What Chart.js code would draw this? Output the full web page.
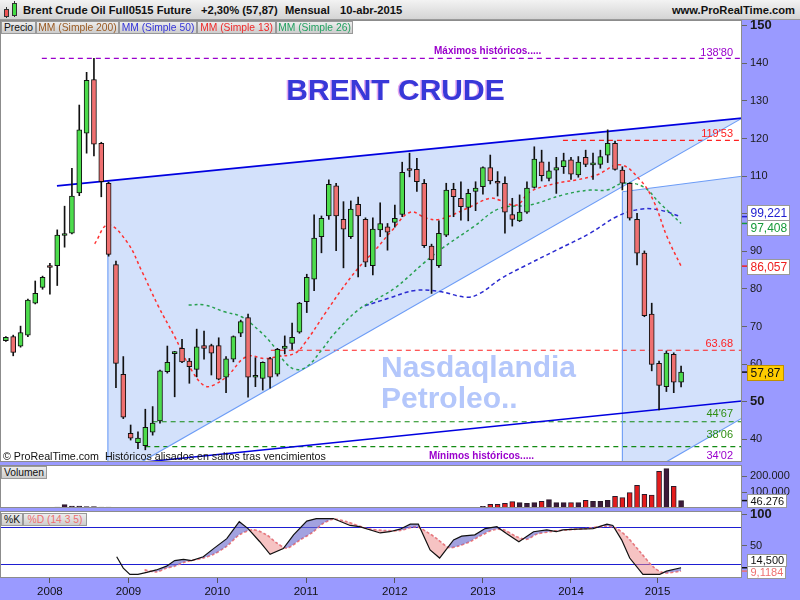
<!DOCTYPE html>
<html>
<head>
<meta charset="utf-8">
<script src="https://cdn.jsdelivr.net/npm/chart.js@4.4.1/dist/chart.umd.min.js"></script>
<style>
html, body { margin: 0; padding: 0; }
body { width: 800px; height: 600px; position: relative; overflow: hidden; background: #9a9aff; font-family: "Liberation Sans", Arial, sans-serif; }
canvas { position: absolute; left: 0; }
#hdr { position: absolute; left: 0; top: 0; width: 800px; height: 19px; background: linear-gradient(#f3f3f3, #d4d4d4); border-bottom: 1px solid #999; z-index: 5; font-weight: bold; font-size: 11.2px; color: #111; }
#hdr span { position: absolute; top: 4px; white-space: nowrap; }
.ico { position: absolute; border: 1px solid #333; }
.wick { position: absolute; width: 1px; background: #333; }
.tag { position: absolute; height: 11px; line-height: 11px; font-size: 10.3px; border: 1px solid #999; background: linear-gradient(#ededed, #cdcdcd); text-align: center; z-index: 5; white-space: nowrap; }
</style>
</head>
<body>
<div id="hdr">
  <div class="wick" style="left:6px;top:7px;height:11px"></div>
  <div class="ico" style="left:4px;top:9px;width:3px;height:6px;background:#ee5555"></div>
  <div class="wick" style="left:14px;top:1px;height:16px"></div>
  <div class="ico" style="left:12px;top:3px;width:3px;height:11px;background:#44dd44"></div>
  <span style="left:23px">Brent Crude Oil Full0515 Future</span>
  <span style="left:201px">+2,30% (57,87)</span>
  <span style="left:285px">Mensual</span>
  <span style="left:340px">10-abr-2015</span>
  <span style="right:5px">www.ProRealTime.com</span>
</div>
<div class="tag" style="left:1px;top:21px;width:33px;color:#111">Precio</div>
<div class="tag" style="left:36px;top:21px;width:81px;color:#9a5a22">MM (Simple 200)</div>
<div class="tag" style="left:119px;top:21px;width:76px;color:#3434d8">MM (Simple 50)</div>
<div class="tag" style="left:197px;top:21px;width:77px;color:#ee2a2a">MM (Simple 13)</div>
<div class="tag" style="left:276px;top:21px;width:75px;color:#22a060">MM (Simple 26)</div>
<div class="tag" style="left:1px;top:466px;width:44px;color:#111">Volumen</div>
<div class="tag" style="left:1px;top:513px;width:20px;color:#111">%K</div>
<div class="tag" style="left:23px;top:513px;width:62px;color:#ee7070">%D (14 3 5)</div>

<canvas id="cPrice" width="800" height="463" style="top:0"></canvas>
<canvas id="cVol" width="800" height="43" style="top:465px"></canvas>
<canvas id="cSto" width="800" height="95" style="top:505px"></canvas>

<script>
// Monthly candles, index 0 = first bar on the left
const opens = [66.2, 67.3, 64.8, 67.7, 76.2, 80.4, 86.0, 86.2, 94.2, 94.8,
  105.5, 121.4, 135.7, 118.7, 108.1, 86.5, 57.3, 41.6, 39.1, 38.3,
  41.9, 44.9, 58.0, 62.8, 64.2, 60.8, 58.6, 64.9, 64.9, 64.9,
  56.5, 61.3, 68.2, 72.4, 56.5, 56.2, 61.5, 57.3, 64.2, 65.5,
  68.5, 76.6, 82.6, 93.9, 99.4, 107.4, 98.5, 93.9, 102.5, 98.5,
  86.2, 95.7, 96.5, 97.7, 99.8, 111.6, 111.8, 108.1, 91.4, 86.2,
  94.3, 106.5, 104.1, 101.7, 105.9, 107.2, 112.3, 108.3, 108.1, 99.8,
  98.1, 100.4, 107.0, 113.8, 109.4, 111.6, 112.5, 114.3, 110.3, 115.0,
  113.0, 113.1, 115.6, 118.7, 111.6, 108.1, 98.5, 89.5, 73.3, 60.2,
  54.0, 62.6, 55.2];
const highs = [67.3, 67.7, 70.1, 77.3, 82.1, 83.4, 86.8, 95.7, 102.0, 112.1,
  128.9, 137.6, 141.3, 119.0, 108.4, 87.4, 62.0, 43.8, 42.0, 48.0,
  48.7, 58.4, 64.8, 63.4, 66.6, 61.5, 69.3, 68.8, 65.3, 67.0,
  62.0, 67.5, 71.7, 73.3, 61.7, 60.6, 61.8, 64.2, 67.5, 70.9,
  76.4, 83.9, 99.7, 99.4, 109.0, 108.1, 103.2, 103.4, 104.4, 98.9,
  98.9, 102.9, 97.4, 102.3, 113.7, 116.1, 114.7, 109.1, 91.9, 98.1,
  108.1, 108.1, 108.5, 106.5, 108.5, 112.5, 115.6, 111.2, 109.8, 104.1,
  105.0, 108.5, 117.8, 116.9, 113.7, 115.0, 116.1, 115.0, 115.2, 116.9,
  116.1, 116.9, 122.3, 119.3, 112.5, 108.2, 100.1, 90.1, 76.2, 60.8,
  63.5, 63.0, 59.5];
const lows = [66.0, 62.2, 64.5, 67.3, 76.0, 79.9, 78.6, 80.9, 91.1, 94.6,
  104.8, 116.1, 115.4, 104.5, 88.7, 53.7, 45.5, 39.8, 37.5, 37.2,
  41.1, 44.3, 57.6, 51.3, 60.4, 54.9, 56.6, 61.3, 57.1, 55.8,
  52.4, 60.6, 67.3, 51.2, 54.0, 53.1, 53.6, 56.8, 62.7, 63.9,
  68.2, 73.7, 79.5, 89.6, 98.5, 90.2, 85.6, 93.4, 83.2, 85.9,
  83.7, 93.9, 90.3, 96.4, 99.2, 109.8, 105.9, 91.0, 78.8, 85.7,
  93.9, 99.2, 98.3, 98.1, 100.8, 105.2, 107.9, 104.7, 94.8, 96.7,
  97.9, 100.1, 106.8, 108.7, 108.7, 105.4, 110.7, 109.1, 109.7, 112.5,
  109.1, 112.1, 113.6, 111.6, 106.3, 98.3, 86.4, 72.6, 58.2, 47.8,
  52.7, 52.4, 53.9];
const closes = [67.1, 63.1, 68.4, 77.0, 78.8, 83.1, 85.7, 94.3, 94.5, 104.7,
  122.3, 135.5, 118.5, 108.5, 89.2, 60.2, 45.9, 40.3, 40.3, 43.2,
  44.3, 58.2, 60.5, 63.1, 60.6, 59.3, 64.6, 64.2, 62.9, 56.0,
  61.4, 67.3, 71.3, 56.5, 57.0, 60.5, 56.5, 63.9, 64.8, 67.1,
  76.2, 83.1, 93.5, 98.8, 107.8, 99.4, 95.9, 101.2, 99.4, 87.1,
  95.9, 97.4, 95.1, 98.8, 111.0, 111.5, 108.5, 91.5, 87.7, 94.8,
  106.3, 104.5, 101.9, 105.4, 106.8, 112.3, 108.7, 108.1, 100.4, 98.5,
  100.4, 106.8, 114.5, 110.1, 111.4, 112.3, 114.1, 110.5, 113.7, 113.1,
  113.2, 115.2, 118.7, 111.8, 108.1, 98.8, 89.5, 72.9, 59.9, 54.3,
  62.9, 55.2, 57.87];
const volumes = [null, null, null, null, null, null, null, 6000, 21000, 12000,
  12000, 9000, 9000, 5000, 5000, 4000, null, null, null, null,
  null, null, null, null, null, null, null, null, null, null,
  null, null, null, null, null, null, null, null, null, 3000,
  null, null, null, null, null, null, null, null, null, null,
  3000, null, null, null, null, null, null, 3000, null, null,
  null, null, null, null, null, 10000, 23000, 23000, 29000, 40000,
  34000, 29000, 34000, 42000, 52000, 34000, 34000, 34000, 34000, 48000,
  42000, 42000, 48000, 73000, 65000, 96000, 142000, 86000, 81000, 229000,
  246000, 136000, 46276];

// Moving averages: [bar index, price]
const ma13 = [[12.1, 92.0], [13.9, 97.0], [16.5, 92.5], [18.5, 84.8], [20.8, 75.3], [23.0, 67.3],
  [25.3, 58.4], [27.1, 54.2], [28.5, 54.6], [30.3, 57.1], [32.8, 62.0], [35.3, 61.5], [37.1, 62.0],
  [39.4, 62.9], [40.7, 65.5], [43.5, 73.5], [45.7, 79.7], [48.0, 85.5], [50.3, 90.3], [52.6, 95.5],
  [55.1, 100.4], [57.3, 98.8], [59.1, 98.5], [62.8, 101.4], [65.9, 104.1], [67.3, 103.6], [69.6, 102.3],
  [71.4, 105.8], [75.0, 108.1], [77.8, 109.0], [80.5, 110.3], [83.7, 113.0], [86.4, 109.0], [88.2, 103.6],
  [90.1, 93.8], [92.0, 86.057]];
const ma26 = [[24.9, 75.7], [27.1, 75.7], [29.8, 73.9], [32.1, 72.6], [34.4, 69.1], [36.2, 65.5],
  [38.0, 60.6], [39.4, 58.6], [41.0, 59.3], [43.0, 63.7], [44.8, 68.2], [48.0, 74.4], [50.7, 77.5],
  [53.0, 80.2], [56.9, 86.8], [59.1, 90.3], [63.7, 96.5], [67.3, 101.4], [71.4, 102.3], [75.9, 105.0],
  [79.6, 106.3], [81.9, 106.3], [84.1, 108.1], [86.8, 107.2], [89.1, 102.8], [92.0, 97.408]];
const ma50 = [[48.9, 75.5], [52.3, 77.6], [55.8, 79.6], [59.1, 79.3], [62.8, 77.8], [64.6, 78.8],
  [67.5, 82.8], [70.5, 85.9], [75.0, 90.3], [79.6, 94.8], [83.2, 99.2], [86.4, 101.2], [89.0, 101.0],
  [92.0, 99.221]];

// Horizontal levels: value, first bar index, label
const levelValues = [141.3, 119.53, 63.68, 44.67, 38.06, 34.02];
const levelStarts = [4.9, 75.9, 36.1, 20.0, 19.0, null];
const levelLabels = ["138'80", "119'53", "63.68", "44'67", "38'06", "34'02"];

// Trend lines and shaded channels: [bar index, price]
const upperLine = [[6.96, 107.4], [100.3, 125.4]];
const lowerLine = [[17.6, 33.7], [100.3, 50.2]];
const channelDiag = [[18.5, 34.0], [100.3, 125.4]];
const channelEdge = [[13.9, 108.74], [13.9, 33.9]];
const box2Top = [[84.0, 105.85], [100.3, 109.95]];
const box2Edge = [[84.0, 105.85], [84.0, 33.9]];
const box2Diag = [[90.0, 34.0], [100.3, 45.6]];
const shade1 = [[13.9, 108.74], [100.3, 125.4], [18.5, 34.0], [13.9, 34.0]];
const shade2 = [[84.0, 105.85], [100.3, 109.95], [100.3, 45.6], [90.0, 34.0], [84.0, 34.0]];

// Stochastic %K and %D: [bar index, value]
const stochK = [[15.1, 32], [16.0, 14], [16.9, 4], [18.0, 4], [19.2, 7], [20.5, 11], [21.9, 17], [23.0, 26],
  [24.2, 28], [25.3, 26], [26.9, 32], [28.3, 45], [30.1, 61], [31.8, 88], [33.0, 77], [34.6, 56], [36.0, 36],
  [37.8, 45], [39.2, 67], [41.0, 89], [42.3, 93], [44.6, 93], [46.9, 82], [48.2, 80], [51.0, 70], [52.3, 72],
  [53.7, 76], [55.1, 84], [56.2, 84], [57.8, 43], [59.1, 30], [61.0, 59], [62.1, 65], [63.9, 67], [65.3, 77],
  [66.9, 80], [68.2, 69], [69.9, 56], [71.9, 72], [73.7, 75], [75.0, 72], [75.9, 75], [77.8, 76], [80.0, 77],
  [81.9, 84], [82.7, 82], [83.9, 59], [85.0, 30], [86.8, 4], [89.1, 4], [90.0, 9], [92.0, 14.5]];
const stochD = [[18.9, 11], [20.5, 8], [21.9, 14], [23.0, 17], [24.2, 23], [25.3, 26], [26.9, 30], [28.3, 36],
  [30.1, 49], [31.8, 67], [33.7, 75], [35.5, 67], [36.9, 54], [38.3, 46], [40.1, 59], [41.9, 72], [43.2, 85],
  [44.6, 92], [46.4, 88], [49.2, 77], [51.4, 74], [53.7, 74], [55.9, 80], [57.3, 72], [58.7, 61], [60.3, 47],
  [61.6, 49], [63.2, 56], [64.6, 65], [66.4, 75], [67.8, 75], [69.6, 64], [71.0, 60], [72.3, 68], [74.1, 72],
  [76.4, 75], [79.1, 77], [81.9, 81], [83.2, 77], [84.6, 64], [86.4, 40], [88.2, 16], [89.6, 6.5], [92.0, 9.1184]];
const stochLevels = [80, 20];

// Axes
const priceTicks = [40, 50, 60, 70, 80, 90, 100, 110, 120, 130, 140, 150];
const volTicks = [100000, 200000];
const stochTicks = [50, 100];
const yearTicks = [6.0, 16.7, 28.8, 40.9, 53.0, 65.0, 77.0, 88.8];
const yearLabels = ['2008', '2009', '2010', '2011', '2012', '2013', '2014', '2015'];

// Right-axis value boxes
const priceBoxValues = [99.221, 97.408, 86.057, 57.87];
const priceBoxLabels = ['99,221', '97,408', '86,057', '57,87'];
const volBoxValues = [46276];
const volBoxLabels = ['46.276'];
const stochBoxValues = [14.5, 9.1184];
const stochBoxLabels = ['14,500', '9,1184'];

const FONT = "'Liberation Sans', Arial, sans-serif";
Chart.defaults.font.family = FONT;
Chart.defaults.color = '#222';
Chart.defaults.animation = false;
Chart.defaults.plugins.legend.display = false;
Chart.defaults.plugins.tooltip.enabled = false;

const X_MIN = -0.8, X_MAX = 100.3, AXIS_W = 58;
const pts = arr => arr.map(([x, y]) => ({ x, y }));
const idx = opens.map((_, i) => i);
const isUp = idx.map(i => closes[i] >= opens[i]);

function hiddenX() {
  return { type: 'linear', min: X_MIN, max: X_MAX, offset: false, display: false };
}
function rightY(min, max, ticks, fontFn, fmt) {
  return {
    position: 'right', min, max,
    afterBuildTicks: s => { s.ticks = ticks.map(v => ({ value: v })); },
    afterFit: s => { s.width = AXIS_W; s.paddingTop = 0; s.paddingBottom = 0; },
    grid: { drawOnChartArea: false, drawTicks: true, tickLength: 5, color: '#666' },
    border: { display: false },
    ticks: { padding: 3, color: '#1a1a1a', font: fontFn, callback: fmt || (v => v) }
  };
}

const panel = {
  id: 'panel',
  beforeDraw(chart) {
    const { ctx, chartArea: a } = chart;
    ctx.save();
    ctx.fillStyle = '#fff';
    ctx.fillRect(a.left, a.top, a.right - a.left, a.bottom - a.top);
    ctx.restore();
  },
  afterDraw(chart) {
    const { ctx, chartArea: a } = chart;
    ctx.save();
    ctx.strokeStyle = '#8c8c8c';
    ctx.lineWidth = 1;
    ctx.strokeRect(a.left + 0.5, a.top + 0.5, a.right - a.left - 1, a.bottom - a.top - 1);
    ctx.restore();
  }
};

function valueBoxes(values, labels, styles, boxH, fontSize) {
  return {
    id: 'boxes',
    afterDraw(chart) {
      const { ctx, chartArea: a } = chart;
      const ys = chart.scales.y;
      const items = values.map((v, k) => ({ k, y0: ys.getPixelForValue(v), y: ys.getPixelForValue(v) }));
      items.sort((p, q) => p.y0 - q.y0);
      for (let pass = 0; pass < 20; pass++) {
        for (let k = 1; k < items.length; k++) {
          const gap = items[k].y - items[k - 1].y;
          if (gap < boxH) { const d = (boxH - gap) / 2; items[k].y += d; items[k - 1].y -= d; }
        }
      }
      const last = items[items.length - 1];
      const over = last.y + boxH / 2 - a.bottom;
      if (over > 0) items.forEach(it => { it.y -= over; });
      ctx.save();
      ctx.font = fontSize + 'px ' + FONT;
      ctx.textBaseline = 'middle';
      ctx.textAlign = 'left';
      items.forEach(it => {
        const st = styles[it.k];
        const w = Math.ceil(ctx.measureText(labels[it.k]).width) + 5;
        ctx.strokeStyle = st.tick;
        ctx.lineWidth = 1.5;
        ctx.beginPath(); ctx.moveTo(a.right, it.y0); ctx.lineTo(a.right + 5, it.y0); ctx.stroke();
        const x0 = a.right + 5.5, y0 = Math.round(it.y - boxH / 2) + 0.5;
        ctx.fillStyle = st.bg;
        ctx.fillRect(x0, y0, w, boxH);
        ctx.strokeStyle = st.border;
        ctx.lineWidth = 1;
        ctx.strokeRect(x0, y0, w, boxH);
        ctx.fillStyle = st.color;
        ctx.fillText(labels[it.k], x0 + 3, y0 + boxH / 2 + 0.5);
      });
      ctx.restore();
    }
  };
}

const shading = {
  id: 'shading',
  beforeDatasetsDraw(chart) {
    const { ctx, chartArea: a } = chart;
    const xs = chart.scales.x, ys = chart.scales.y;
    ctx.save();
    ctx.beginPath(); ctx.rect(a.left, a.top, a.right - a.left, a.bottom - a.top); ctx.clip();
    ctx.fillStyle = '#d3e1fb';
    [shade1, shade2].forEach(poly => {
      ctx.beginPath();
      poly.forEach(([x, y], k) => {
        const px = xs.getPixelForValue(x), py = ys.getPixelForValue(y);
        if (k === 0) ctx.moveTo(px, py); else ctx.lineTo(px, py);
      });
      ctx.closePath();
      ctx.fill();
    });
    ctx.restore();
  }
};

const levelColors = ['#9a00cc', '#ff1e1e', '#ff1e1e', '#2f8f12', '#2f8f12', '#9a00cc'];
const labelLift = [2.8, 3.3, 3.3, 4.5, 8.5, 2.5];
const priceText = {
  id: 'priceText',
  afterDatasetsDraw(chart) {
    const { ctx } = chart;
    const ys = chart.scales.y;
    ctx.save();
    ctx.textBaseline = 'alphabetic';
    ctx.font = 'bold 30px ' + FONT;
    ctx.textAlign = 'center';
    ctx.fillStyle = '#e7a9ef';
    ctx.fillText('BRENT CRUDE', 394, 100);
    ctx.fillStyle = '#3838d8';
    ctx.fillText('BRENT CRUDE', 395.5, 100);
    ctx.textAlign = 'left';
    ctx.fillStyle = '#b4c7fb';
    ctx.fillText('Nasdaqlandia', 381, 377);
    ctx.fillText('Petroleo..', 381, 408);

    ctx.font = '11px ' + FONT;
    ctx.textAlign = 'right';
    levelLabels.forEach((t, k) => {
      ctx.fillStyle = levelColors[k];
      ctx.fillText(t, 733, ys.getPixelForValue(levelValues[k]) - labelLift[k]);
    });
    ctx.textAlign = 'left';
    ctx.font = 'bold 10px ' + FONT;
    ctx.fillStyle = '#9a00cc';
    ctx.fillText('Máximos históricos.....', 434, ys.getPixelForValue(levelValues[0]) - 4.3);
    ctx.fillText('Mínimos históricos.....', 429, ys.getPixelForValue(levelValues[5]) - 2.8);
    ctx.font = '10.7px ' + FONT;
    ctx.fillStyle = '#111';
    ctx.fillText('© ProRealTime.com  Históricos alisados en saltos tras vencimientos', 3, 459.5);
    ctx.restore();
  }
};

function lineDs(data, color, width, dash, order) {
  return { type: 'line', data: pts(data), borderColor: color, borderWidth: width, borderDash: dash || [],
    pointRadius: 0, tension: 0, fill: false, order };
}

const levelDatasets = levelValues.map((v, k) => levelStarts[k] === null ? null :
  lineDs([[levelStarts[k], v], [X_MAX, v]], k === 0 ? '#9a00cc' : (k < 3 ? '#ff2020' : '#138a13'), 1.2, [5, 4], 5))
  .filter(Boolean);

new Chart(document.getElementById('cPrice'), {
  type: 'bar',
  data: {
    datasets: [
      { type: 'bar', data: idx.map(i => ({ x: i, y: [opens[i], closes[i]] })),
        backgroundColor: isUp.map(u => u ? '#4cdc4c' : '#ef7070'), borderColor: '#111', borderWidth: 1,
        borderSkipped: false, barThickness: 5, minBarLength: 2, grouped: false, order: 0 },
      { type: 'bar', data: idx.map(i => ({ x: i, y: [lows[i], highs[i]] })),
        backgroundColor: '#111', borderWidth: 0, barThickness: 1, grouped: false, order: 1 },
      Object.assign(lineDs(ma13, '#ff3030', 1.5, [3, 3], 2), { tension: 0.4 }),
      Object.assign(lineDs(ma26, '#28a050', 1.5, [3, 3], 2), { tension: 0.4 }),
      Object.assign(lineDs(ma50, '#2a2ad0', 1.5, [4, 3], 2), { tension: 0.4 }),
      lineDs(upperLine, '#0000e0', 1.8, null, 3),
      lineDs(lowerLine, '#0000e0', 1.5, null, 3),
      lineDs(channelDiag, '#6c9cf6', 1.1, null, 4),
      lineDs(channelEdge, '#6c9cf6', 1.1, null, 4),
      lineDs(box2Top, '#6c9cf6', 1.1, null, 4),
      lineDs(box2Edge, '#6c9cf6', 1.1, null, 4),
      lineDs(box2Diag, '#6c9cf6', 1.1, null, 4),
      ...levelDatasets
    ]
  },
  options: {
    responsive: false,
    layout: { padding: { top: 20, bottom: 1, left: 0, right: 0 } },
    scales: {
      x: hiddenX(),
      y: rightY(33.96, 151.52, priceTicks,
        c => (c.tick && (c.tick.value === 150 || c.tick.value === 50)) ? { size: 13, weight: 'bold' } : { size: 11 })
    }
  },
  plugins: [panel, shading, priceText, valueBoxes(priceBoxValues, priceBoxLabels, [
    { color: '#2020d0', bg: '#fff', border: '#999', tick: '#2020d0' },
    { color: '#169a3a', bg: '#fff', border: '#999', tick: '#169a3a' },
    { color: '#ee2020', bg: '#fff', border: '#999', tick: '#ee2020' },
    { color: '#111', bg: '#ffcc00', border: '#c09000', tick: '#111' }
  ], 15, 12)]
});

new Chart(document.getElementById('cVol'), {
  type: 'bar',
  data: {
    datasets: [{
      data: idx.map(i => ({ x: i, y: volumes[i] })),
      backgroundColor: isUp.map(u => u ? '#3c1a3a' : '#e41c1c'), borderColor: '#2a1a2a', borderWidth: 1,
      borderSkipped: false, barThickness: 5, grouped: false
    }]
  },
  options: {
    responsive: false,
    layout: { padding: 0 },
    scales: {
      x: hiddenX(),
      y: rightY(0, 268750, volTicks, { size: 11 }, v => (v / 1000).toFixed(0) + '.000')
    }
  },
  plugins: [panel, valueBoxes(volBoxValues, volBoxLabels, [
    { color: '#111', bg: '#fff', border: '#999', tick: '#111' }
  ], 13, 11)]
});

const stochLines = {
  id: 'stochLines',
  beforeDatasetsDraw(chart) {
    const { ctx, chartArea: a } = chart;
    const ys = chart.scales.y;
    ctx.save();
    ctx.strokeStyle = '#1e1ed2';
    ctx.lineWidth = 1;
    stochLevels.forEach(v => {
      const y = Math.round(ys.getPixelForValue(v)) + 0.5;
      ctx.beginPath(); ctx.moveTo(a.left, y); ctx.lineTo(a.right, y); ctx.stroke();
    });
    ctx.restore();
  }
};

new Chart(document.getElementById('cSto'), {
  type: 'line',
  data: {
    datasets: [
      { data: pts(stochK), borderColor: '#111', borderWidth: 1.2, pointRadius: 0, tension: 0,
        fill: { target: 1, above: 'rgba(105,105,205,0.62)', below: 'rgba(238,135,135,0.5)' } },
      { data: pts(stochD), borderColor: '#f07a7a', borderWidth: 1.7, borderDash: [3, 2], pointRadius: 0,
        tension: 0.3, fill: false }
    ]
  },
  options: {
    responsive: false,
    layout: { padding: { top: 6, bottom: 0, left: 0, right: 0 } },
    scales: {
      x: {
        type: 'linear', min: X_MIN, max: X_MAX, offset: false,
        afterBuildTicks: s => { s.ticks = yearTicks.map(v => ({ value: v })); },
        afterFit: s => { s.height = 22; },
        grid: { drawOnChartArea: false, drawTicks: true, tickLength: 5, color: '#555' },
        border: { display: false },
        ticks: { autoSkip: false, maxRotation: 0, padding: 2, color: '#111', font: { size: 11.5 },
          callback: (v, k) => yearLabels[k] }
      },
      y: rightY(-1.86, 105.05, stochTicks,
        c => (c.tick && c.tick.value === 100) ? { size: 13, weight: 'bold' } : { size: 11 })
    }
  },
  plugins: [panel, stochLines, valueBoxes(stochBoxValues, stochBoxLabels, [
    { color: '#111', bg: '#fff', border: '#999', tick: '#111' },
    { color: '#ee7070', bg: '#fff', border: '#999', tick: '#ee7070' }
  ], 12, 11)]
});
</script>
</body>
</html>
